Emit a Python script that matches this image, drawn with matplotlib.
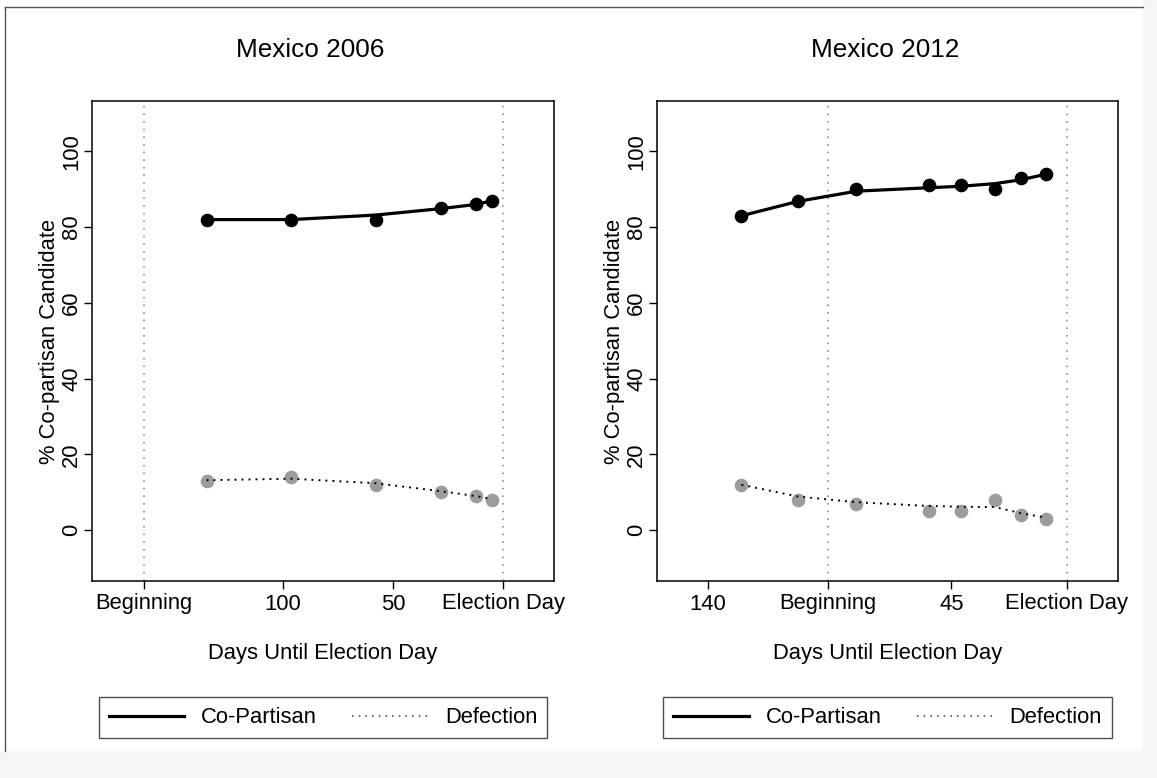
import matplotlib
matplotlib.use("Agg")
import matplotlib.pyplot as plt
from matplotlib.lines import Line2D
from matplotlib.patches import Rectangle

plt.rcParams['font.family'] = ['Liberation Sans', 'DejaVu Sans']

# Mexico 2006 survey waves (days until election day)
days_2006 = [134.5, 96, 57.7, 28.2, 12.3, 5]
copart_2006 = [82, 82, 82, 85, 86, 87]
copart_fit_2006 = [82, 82, 83.2, 84.9, 86, 87]
defect_2006 = [13, 14, 12, 10, 9, 8]
defect_fit_2006 = [13.2, 13.6, 12.4, 10.3, 9.0, 8.2]
ticks_2006 = [163, 100, 50, 0]
ticklabels_2006 = ["Beginning", "100", "50", "Election Day"]
campaign_2006 = [163, 0]

# Mexico 2012 survey waves
days_2012 = [126.8, 104.8, 82.0, 53.9, 41.1, 27.9, 18.0, 8.0]
copart_2012 = [83, 87, 90, 91, 91, 90, 93, 94]
copart_fit_2012 = [83, 86.8, 89.5, 90.4, 90.8, 91.5, 92.5, 94]
defect_2012 = [12, 8, 7, 5, 5, 8, 4, 3]
defect_fit_2012 = [12, 8.9, 7.4, 6.4, 6.2, 6.1, 4.5, 3.3]
ticks_2012 = [140, 93, 45, 0]
ticklabels_2012 = ["140", "Beginning", "45", "Election Day"]
campaign_2012 = [93, 0]

W, H = 1157, 778
FS = 15.8

fig = plt.figure(figsize=(W / 100, H / 100), dpi=100)
fig.patch.set_facecolor("white")

# page edge: grey strip right and bottom, thin frame left and top
fig.patches.append(Rectangle((0, 0), 1, (H - 751) / H, transform=fig.transFigure,
                             facecolor="#f7f5f5", edgecolor="none", zorder=0))
fig.patches.append(Rectangle((1143 / W, 0), 1, 1, transform=fig.transFigure,
                             facecolor="#f7f5f5", edgecolor="none", zorder=0))
fig.lines.append(Line2D([5 / W, 5 / W], [(H - 751) / H, (H - 7) / H],
                        transform=fig.transFigure, color="#555555", lw=1))
fig.lines.append(Line2D([5 / W, 1143 / W], [(H - 7) / H, (H - 7) / H],
                        transform=fig.transFigure, color="#555555", lw=1))


def panel(rect, title, title_x, days, cp, cp_fit, df, df_fit,
          ticks, ticklabels, campaign, xlim):
    ax = fig.add_axes([rect[0] / W, (H - rect[3]) / H,
                       (rect[2] - rect[0]) / W, (rect[3] - rect[1]) / H])
    for d in campaign:
        ax.axvline(d, color="#808080", lw=1.1, ls=(0, (1, 4)), zorder=1)
    ax.plot(days, cp, "o", color="black", ms=8.8, zorder=3)
    ax.plot(days, cp_fit, "-", color="black", lw=2.3, zorder=4)
    ax.plot(days, df, "o", color="#9c9c9c", ms=8.8, zorder=3)
    ax.plot(days, df_fit, color="black", lw=1.4, ls=(0, (1, 2.6)), zorder=4)

    ax.set_xlim(*xlim)
    ax.set_ylim(-13.4, 113.3)
    ax.set_xticks(ticks)
    ax.set_xticklabels(ticklabels)
    ax.set_yticks([0, 20, 40, 60, 80, 100])
    ax.set_yticklabels(["0", "20", "40", "60", "80", "100"],
                       rotation=90, va="center")
    ax.tick_params(direction="out", length=6, width=1, labelsize=FS, pad=3)
    ax.tick_params(axis="y", pad=1)
    for s in ax.spines.values():
        s.set_linewidth(1.1)

    ax.set_xlabel("Days Until Election Day", fontsize=FS)
    ax.xaxis.set_label_coords(0.5, -0.15)
    ax.xaxis.label.set_va("center")
    ax.set_ylabel("% Co-partisan Candidate", fontsize=FS)
    ax.yaxis.set_label_coords(-0.092, 0.5)
    ax.yaxis.label.set_va("center")

    fig.text(title_x / W, (H - 50) / H, title, fontsize=18.8,
             ha="center", va="center")

    handles = [Line2D([], [], color="black", lw=2.3),
               Line2D([], [], color="#555555", lw=1.2, ls=(0, (1, 3)))]
    leg = ax.legend(handles, ["Co-Partisan", "Defection"], ncol=2,
                    loc="center", bbox_to_anchor=(0.5, -0.285),
                    fontsize=FS, frameon=True, fancybox=False,
                    handlelength=3.45, handletextpad=0.77,
                    columnspacing=1.6, borderpad=0.45, borderaxespad=0)
    leg.get_frame().set_edgecolor("#222222")
    leg.get_frame().set_linewidth(1.0)
    return ax


panel((92, 101, 554, 581), "Mexico 2006", 310, days_2006, copart_2006,
      copart_fit_2006, defect_2006, defect_fit_2006, ticks_2006,
      ticklabels_2006, campaign_2006, (186.4, -23.0))
panel((657, 101, 1118, 581), "Mexico 2012", 885, days_2012, copart_2012,
      copart_fit_2012, defect_2012, defect_fit_2012, ticks_2012,
      ticklabels_2012, campaign_2012, (159.7, -19.9))

fig.savefig("out.png", dpi=100)
